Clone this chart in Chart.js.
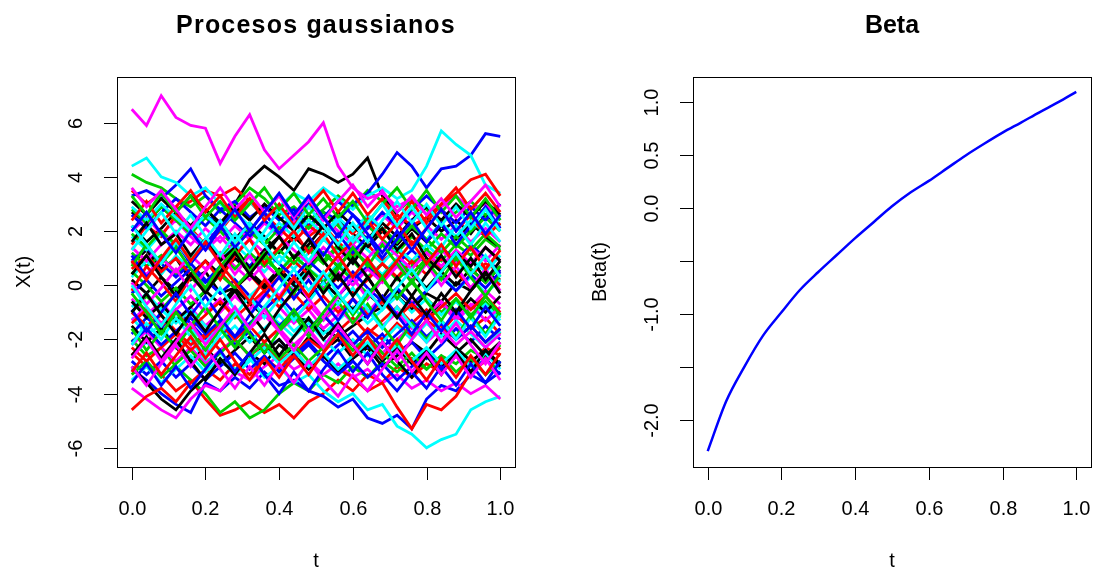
<!DOCTYPE html>
<html>
<head>
<meta charset="utf-8">
<script src="https://cdn.jsdelivr.net/npm/chart.js"></script>
<style>
  html, body { margin: 0; padding: 0; background: #fff; }
  #wrap { position: relative; width: 1093px; height: 570px; }
  #left { position: absolute; left: 0; top: 0; }
  #right { position: absolute; left: 546px; top: 0; }
</style>
</head>
<body>
<div id="wrap">
  <canvas id="left" width="546" height="570"></canvas>
  <canvas id="right" width="547" height="570"></canvas>
</div>
<script>
// time grid of the simulated paths
var tValues = [0, 0.04, 0.08, 0.12, 0.16, 0.2, 0.24, 0.28, 0.32, 0.36, 0.4, 0.44, 0.48,
               0.52, 0.56, 0.6, 0.64, 0.68, 0.72, 0.76, 0.8, 0.84, 0.88, 0.92, 0.96, 1];

// sample paths (matplot order: colour cycles black, red, green, blue, cyan, magenta)
var paths = [
  [2.7,2.3,2.9,2.4,2.0,2.6,2.2,3.0,3.9,4.4,4.0,3.5,4.3,4.1,3.8,4.1,4.7,3.3,2.6,2.1,2.5,2.0,2.4,1.9,2.6,2.2],
  [3.5,3.0,3.4,2.8,3.1,3.5,3.3,3.6,3.1,2.5,2.9,2.3,1.8,2.2,1.6,1.1,1.5,0.9,1.3,0.8,1.2,0.6,1.0,0.4,0.8,0.5],
  [4.1,3.8,3.6,3.2,2.9,3.3,2.7,3.0,3.6,3.2,2.6,2.9,2.4,2.8,3.3,2.9,3.5,3.1,2.7,3.2,2.8,2.3,2.7,3.1,2.6,3.0],
  [3.3,3.5,3.2,3.7,4.3,3.3,2.8,3.1,2.5,2.9,2.4,2.8,2.2,2.7,2.4,3.0,3.4,4.1,4.9,4.4,3.6,4.3,4.4,4.8,5.6,5.5],
  [4.4,4.7,4.0,3.8,3.3,3.6,3.0,2.6,3.1,2.5,2.9,3.4,3.1,3.6,3.2,2.8,3.3,3.6,3.2,3.5,4.4,5.7,5.2,4.8,3.7,3.4],
  [6.5,5.9,7.0,6.2,5.9,5.8,4.5,5.5,6.3,5.0,4.3,4.8,5.3,6.0,4.4,3.6,3.2,3.4,2.9,3.2,2.6,2.9,3.3,2.8,3.0,2.4],

  [0.8,1.3,0.6,1.0,0.2,0.5,-0.3,-0.1,-0.7,-1.1,-1.5,-1.2,-1.3,-1.7,-1.9,-1.5,-1.1,-0.8,-0.4,-0.9,-0.3,-0.6,0.1,-0.2,0.4,0.2],
  [-2.5,-3.0,-3.3,-3.9,-3.5,-4.2,-4.8,-4.6,-4.3,-4.7,-4.4,-4.9,-4.3,-4.0,-3.5,-3.9,-3.3,-3.6,-3.0,-3.4,-2.9,-3.2,-2.6,-2.9,-2.3,-2.6],
  [-2.0,-2.6,-2.3,-3.0,-3.5,-4.0,-4.7,-4.3,-4.9,-4.6,-4.0,-3.6,-3.9,-3.3,-3.6,-3.0,-3.4,-2.8,-3.2,-2.7,-3.1,-2.6,-2.9,-2.4,-2.7,-2.2],
  [-3.1,-3.5,-4.0,-4.4,-4.7,-3.6,-3.9,-3.4,-3.8,-3.2,-3.7,-3.5,-3.9,-4.1,-4.5,-4.2,-4.9,-5.1,-4.8,-5.3,-4.2,-3.7,-3.9,-3.3,-3.6,-3.2],
  [-1.2,-1.8,-1.5,-2.3,-2.0,-2.8,-2.5,-3.1,-2.7,-3.4,-3.0,-3.6,-3.3,-3.9,-4.3,-4.0,-4.6,-4.4,-5.2,-5.5,-6.0,-5.7,-5.5,-4.6,-4.3,-4.1],
  [-3.8,-4.2,-4.6,-4.9,-4.2,-3.7,-3.9,-3.2,-3.5,-3.0,-2.6,-3.1,-2.8,-3.3,-2.9,-3.4,-3.1,-3.6,-3.3,-3.8,-3.5,-3.9,-3.6,-4.0,-3.7,-4.2],

  [-3.0,-3.6,-4.2,-4.6,-3.9,-3.4,-2.8,-3.2,-2.5,-2.9,-2.2,-2.6,-1.9,-2.4,-2.0,-2.7,-2.3,-3.0,-2.6,-2.1,-2.5,-1.8,-2.3,-2.8,-2.4,-2.9],
  [-4.6,-4.1,-3.8,-4.3,-3.6,-3.1,-3.5,-2.9,-3.3,-2.7,-3.1,-2.5,-2.0,-2.4,-1.8,-2.2,-1.6,-2.0,-1.4,-1.9,-1.3,-1.7,-1.1,-1.6,-1.2,-1.8],
  [1.2,0.7,1.1,0.4,0.9,1.5,1.0,1.6,2.1,1.7,1.2,1.8,1.3,0.8,1.4,0.9,0.3,0.8,0.2,0.7,1.3,0.9,1.5,1.1,1.7,1.3],
  [-1.8,-1.2,-1.6,-0.9,-1.4,-2.0,-1.5,-2.2,-1.7,-2.4,-2.0,-2.6,-2.1,-2.7,-2.2,-1.7,-2.3,-1.8,-2.5,-2.1,-2.7,-2.2,-1.6,-2.1,-1.5,-2.0],
  [0.3,0.9,0.4,1.1,0.6,0.1,0.7,0.2,-0.4,0.1,-0.5,0.0,0.6,0.2,0.8,0.3,0.9,0.4,1.0,0.5,-0.1,0.4,-0.2,0.3,-0.3,0.2],
  [-0.5,-1.1,-0.6,-1.3,-0.8,-1.5,-1.0,-0.4,-0.9,-0.3,-0.8,-1.4,-0.9,-1.6,-1.1,-0.5,-1.0,-0.4,-1.1,-0.6,-1.2,-0.7,-1.3,-0.8,-0.2,-0.7],

  [2.2,1.6,2.1,2.7,2.2,2.8,2.3,1.7,2.3,1.8,1.2,1.8,1.3,1.9,2.4,1.9,1.4,2.0,1.5,2.1,1.6,2.2,1.7,2.3,1.8,1.4],
  [-1.0,-1.5,-1.1,-1.7,-2.2,-1.8,-2.4,-2.0,-2.6,-2.2,-2.8,-2.4,-3.0,-2.6,-3.1,-3.4,-3.9,-3.6,-4.5,-5.3,-4.4,-4.6,-4.1,-3.2,-2.8,-2.3],
  [-1.0,-0.4,-0.9,-0.3,0.3,-0.2,0.4,-0.1,0.5,1.0,0.5,1.1,0.6,0.1,0.7,0.2,-0.3,0.2,-0.4,0.1,-0.5,-1.0,-0.5,-1.1,-0.6,-1.2],
  [0.9,1.4,0.8,0.3,0.8,0.2,-0.3,0.2,-0.4,-0.9,-0.4,-1.0,-0.5,0.1,-0.4,0.2,0.7,0.2,0.8,1.3,0.8,1.4,0.9,1.5,1.0,0.5],
  [-2.6,-2.1,-2.7,-2.2,-1.6,-2.1,-1.5,-1.0,-1.5,-0.9,-1.4,-1.9,-1.4,-2.0,-2.5,-2.0,-2.6,-2.1,-1.5,-2.0,-1.4,-1.9,-1.3,-1.8,-2.3,-1.7],
  [2.0,2.5,1.9,2.4,1.8,1.3,1.8,1.2,1.7,2.3,1.8,2.4,1.9,2.5,2.0,1.5,2.1,2.6,2.1,2.7,2.2,1.7,2.2,1.6,2.1,1.6],

  [-1.5,-2.1,-1.6,-2.3,-2.8,-2.3,-2.9,-2.4,-1.9,-2.5,-2.0,-2.6,-3.1,-2.6,-3.2,-2.7,-2.2,-2.8,-2.3,-2.9,-2.4,-3.0,-2.5,-2.0,-2.6,-2.1],
  [1.5,2.2,1.8,2.6,2.1,1.5,2.0,2.7,3.2,2.6,2.1,1.6,2.2,1.8,2.3,1.9,2.5,2.0,2.6,2.2,2.5,3.0,3.4,3.9,4.1,3.3],
  [2.8,2.3,2.9,2.4,1.9,2.5,2.0,1.4,2.0,1.5,2.1,2.6,2.1,2.7,2.2,1.6,2.2,1.7,1.2,1.8,1.3,1.9,1.4,2.0,2.5,2.0],
  [-2.8,-3.3,-2.8,-3.4,-2.9,-3.5,-3.0,-2.5,-3.1,-2.6,-3.2,-2.7,-2.2,-2.8,-3.3,-2.8,-3.4,-2.9,-3.5,-3.0,-2.5,-3.1,-2.6,-3.2,-2.7,-3.3],
  [1.8,1.3,1.9,1.4,2.0,1.5,0.9,1.5,1.0,0.5,1.1,0.6,1.2,1.7,1.2,1.8,1.3,0.8,1.4,0.9,1.5,1.0,0.4,1.0,0.5,1.1],
  [-2.2,-1.7,-2.3,-2.8,-2.3,-2.9,-2.4,-2.0,-2.6,-2.1,-1.6,-2.2,-1.7,-2.3,-1.8,-2.4,-1.9,-2.5,-2.0,-1.5,-2.1,-1.6,-2.2,-1.7,-2.3,-1.8],

  [0.2,-0.3,0.3,-0.2,0.4,0.9,0.4,1.0,0.5,0.0,0.6,0.1,0.7,1.2,0.7,1.3,0.8,0.3,0.9,0.4,-0.1,0.5,0.0,0.6,0.1,0.7],
  [0.6,1.1,0.5,1.0,0.4,-0.1,0.5,-0.1,0.4,-0.2,0.3,0.9,0.4,-0.2,0.3,-0.3,0.2,0.8,0.3,0.9,0.4,1.0,0.5,-0.1,0.5,0.0],
  [-3.3,-2.8,-3.4,-2.9,-2.4,-3.0,-2.5,-2.0,-2.6,-2.1,-2.7,-2.2,-2.8,-2.3,-1.8,-2.4,-1.9,-2.5,-3.0,-2.5,-3.1,-2.6,-3.2,-2.7,-3.3,-2.8],
  [2.6,2.1,2.7,3.2,2.7,2.2,2.8,2.3,1.8,2.4,1.9,2.5,3.0,2.5,3.1,2.6,2.1,2.7,2.2,2.8,3.3,2.8,2.3,2.9,2.4,3.0],
  [-0.8,-0.3,-0.9,-1.4,-0.9,-1.5,-2.0,-1.5,-2.1,-1.6,-1.1,-1.7,-1.2,-1.8,-1.3,-0.8,-1.4,-0.9,-0.4,-1.0,-0.5,-1.1,-0.6,-1.2,-0.7,-1.3],
  [0.9,0.4,1.0,0.5,1.1,0.6,1.2,0.7,0.2,0.8,0.3,-0.2,0.4,-0.1,0.5,0.0,0.6,0.1,0.7,0.2,0.8,1.3,0.8,1.4,0.9,1.5],

  [-0.6,-1.2,-0.7,-1.3,-0.8,-0.2,-0.7,-0.1,0.4,-0.1,0.5,0.0,-0.5,0.1,-0.4,-0.9,-0.3,-0.8,-0.2,-0.7,-1.2,-0.6,-1.1,-0.5,-1.0,-0.4],
  [-2.3,-2.8,-2.3,-1.8,-2.4,-1.9,-1.4,-2.0,-1.5,-2.1,-1.6,-1.0,-1.6,-1.1,-1.7,-1.2,-1.8,-1.3,-0.8,-1.4,-0.9,-1.5,-2.0,-1.5,-2.1,-1.6],
  [0.5,0.0,-0.6,-0.1,-0.7,-0.2,0.4,-0.1,0.5,1.0,0.5,1.1,0.6,1.2,0.7,1.3,0.8,0.3,0.9,0.4,1.0,0.5,1.1,0.6,0.1,0.7],
  [-0.3,0.2,-0.4,0.1,0.6,0.1,0.7,1.2,0.7,1.3,0.8,0.3,0.9,0.4,-0.1,0.5,-0.1,-0.6,-0.1,-0.7,-0.2,0.3,-0.2,0.4,-0.1,0.5],
  [2.9,2.4,3.0,2.5,2.0,2.6,2.1,2.7,2.2,1.7,2.3,1.8,2.4,1.9,2.5,2.0,2.6,2.1,1.6,2.2,1.7,2.3,1.8,2.4,1.9,2.5],
  [-1.3,-0.8,-1.4,-0.9,-0.4,-1.0,-0.5,-1.1,-1.6,-1.1,-1.7,-1.2,-0.7,-1.3,-0.8,-1.4,-0.9,-1.5,-1.0,-1.6,-1.1,-0.6,-1.2,-0.7,-1.3,-0.8],

  [3.1,2.6,3.2,2.7,3.3,2.8,2.3,2.9,2.4,3.0,2.5,2.0,2.6,2.1,2.7,2.2,1.7,2.3,1.8,2.4,2.9,2.4,3.0,2.5,3.1,2.6],
  [-1.4,-0.9,-1.5,-1.0,-1.6,-1.1,-0.6,-1.2,-0.7,-0.2,-0.8,-0.3,-0.9,-0.4,-1.0,-0.5,-1.1,-0.6,-1.2,-0.7,-1.3,-0.8,-0.3,-0.9,-0.4,-1.0],
  [1.9,1.4,2.0,1.5,1.0,1.6,1.1,0.6,1.2,0.7,1.3,0.8,1.4,0.9,1.5,1.0,1.6,2.1,1.6,2.2,1.7,1.2,1.8,1.3,1.9,1.4],
  [-2.1,-1.6,-2.2,-1.7,-1.2,-1.8,-1.3,-1.9,-1.4,-0.9,-1.5,-1.0,-1.6,-1.1,-1.7,-2.2,-1.7,-2.3,-1.8,-1.3,-1.9,-1.4,-2.0,-1.5,-2.1,-1.6],
  [-3.5,-3.0,-3.6,-3.1,-2.6,-3.2,-2.7,-3.3,-2.8,-2.3,-2.9,-2.4,-3.0,-2.5,-3.1,-2.6,-2.1,-2.7,-2.2,-2.8,-2.3,-2.9,-2.4,-3.0,-2.5,-3.1],
  [1.4,0.9,1.5,2.0,1.5,2.1,1.6,2.2,1.7,1.2,1.8,1.3,0.8,1.4,0.9,1.5,1.0,1.6,1.1,0.6,1.2,0.7,1.3,0.8,1.4,0.9],

  [1.6,2.3,1.5,1.9,1.1,1.7,0.9,1.4,0.6,1.3,1.8,1.0,1.5,2.2,1.4,0.8,1.6,2.1,1.3,1.9,1.0,0.5,1.2,0.7,1.4,0.9],
  [-0.2,0.7,0.1,-0.6,0.3,0.9,0.2,1.1,1.7,0.8,1.4,2.0,1.2,1.9,1.1,1.6,2.4,1.7,2.3,1.5,2.1,2.8,2.0,2.6,1.8,2.3],
  [-1.6,-2.4,-1.7,-2.3,-1.5,-0.8,-1.6,-1.0,-1.8,-2.5,-1.7,-1.1,-1.9,-1.2,-0.6,-1.4,-0.7,-1.5,-2.2,-1.4,-2.0,-1.3,-1.9,-1.1,-1.8,-1.0],
  [1.1,0.3,0.9,1.6,0.8,1.5,2.2,1.4,2.0,2.7,1.9,2.6,1.8,1.1,1.9,1.2,1.8,1.0,1.7,2.4,1.6,2.3,1.5,2.2,2.9,2.1],
  [-2.2,-1.4,-2.0,-1.2,-1.9,-2.6,-1.8,-1.1,-0.4,-1.2,-0.5,-1.3,-0.6,0.1,-0.7,-0.1,-0.9,-1.6,-0.8,-1.5,-2.1,-1.3,-2.0,-1.2,-1.9,-1.1],
  [0.1,-0.7,-0.1,0.6,-0.2,0.5,1.2,0.4,1.1,0.3,-0.4,0.3,-0.5,-1.2,-0.4,0.3,-0.5,0.2,0.9,0.1,0.8,0.0,0.7,-0.1,0.6,-0.2],

  [-2.6,-1.9,-2.7,-2.0,-2.8,-3.5,-2.7,-3.3,-2.5,-1.8,-2.6,-1.9,-1.2,-2.0,-1.4,-2.2,-2.9,-2.1,-2.8,-3.4,-2.6,-3.3,-2.5,-3.2,-2.4,-3.0],
  [2.4,3.1,2.3,2.9,3.5,2.7,3.3,2.5,3.2,2.4,3.0,2.2,2.9,3.5,2.7,3.4,2.6,3.2,2.4,3.1,2.3,3.0,3.6,2.8,3.4,2.7],
  [0.7,1.5,0.8,1.4,0.6,-0.1,0.7,1.3,0.5,1.2,0.4,-0.3,0.5,-0.2,0.6,1.4,0.7,1.5,0.8,0.1,0.9,0.2,1.0,0.3,-0.4,0.4],
  [-3.6,-2.9,-3.7,-3.0,-3.8,-3.1,-2.4,-3.2,-2.5,-3.3,-4.0,-3.2,-3.9,-3.1,-2.4,-3.2,-2.5,-3.3,-3.9,-3.2,-3.8,-3.0,-3.7,-2.9,-3.6,-2.8],
  [1.3,2.0,2.7,1.9,2.6,1.8,1.1,1.9,1.2,2.0,2.8,2.1,2.9,2.2,1.5,2.3,1.6,2.4,3.1,2.3,3.0,2.2,2.9,2.1,2.8,2.0],
  [-3.0,-3.7,-2.9,-2.2,-3.0,-2.3,-3.1,-3.8,-3.0,-3.7,-2.9,-3.6,-2.8,-3.5,-4.1,-3.3,-3.9,-3.1,-2.4,-3.2,-2.5,-3.3,-2.6,-3.4,-2.7,-3.5],

  [0.4,1.1,0.3,-0.4,0.4,-0.3,0.5,1.2,0.4,1.1,1.8,1.0,1.7,0.9,0.2,1.0,0.3,-0.5,0.3,-0.4,0.4,1.1,0.3,1.0,0.2,0.9],
  [-3.2,-2.5,-3.3,-2.6,-1.9,-2.7,-2.0,-2.8,-3.5,-2.7,-3.4,-2.6,-3.3,-2.5,-1.8,-2.6,-1.9,-2.7,-2.0,-2.8,-3.5,-2.7,-3.4,-2.6,-3.3,-2.5],
  [3.3,2.6,3.4,2.7,3.3,2.5,3.1,2.4,3.0,3.6,2.8,3.4,2.6,3.2,2.5,3.1,2.3,3.0,3.6,2.8,3.5,2.7,3.3,2.5,3.2,2.4],
  [-0.9,-1.7,-1.0,-0.3,-1.1,-0.4,-1.2,-1.9,-1.1,-0.4,0.3,-0.5,0.2,-0.6,-1.3,-0.5,-1.2,-0.4,-1.1,-1.8,-1.0,-1.7,-0.9,-1.6,-0.8,-1.5],
  [2.2,1.5,0.8,1.6,0.9,1.7,2.4,1.6,2.3,1.5,0.8,1.6,0.9,1.7,2.4,1.6,2.3,3.0,2.2,2.9,2.1,1.4,2.2,1.5,2.3,1.6],
  [3.6,2.9,3.5,2.8,2.1,2.9,3.6,2.8,3.4,2.7,3.3,2.5,3.2,2.4,3.1,3.7,2.9,3.5,2.7,3.3,2.6,3.2,2.5,3.1,3.7,2.9],

  [-1.0,-0.3,-1.1,-1.8,-1.0,-1.7,-0.9,-0.2,-1.0,-1.7,-0.9,-0.2,0.5,-0.3,0.4,-0.4,0.3,-0.5,-1.2,-0.4,-1.1,-0.3,-1.0,-0.2,0.5,-0.3],
  [0.9,0.2,1.0,1.7,0.9,1.6,0.8,0.1,-0.6,0.2,-0.5,0.3,-0.4,0.4,1.1,0.3,1.0,0.2,0.9,1.6,0.8,1.5,0.7,1.4,0.6,1.3],
  [-0.3,-1.0,-1.8,-1.0,-1.7,-2.4,-1.6,-2.3,-1.5,-0.8,-1.6,-0.9,-1.7,-1.0,-0.3,-1.1,-0.4,0.3,-0.5,0.2,-0.6,-1.3,-0.5,-1.2,-0.4,-1.1],
  [2.0,2.7,1.9,1.2,2.0,1.3,2.1,2.8,2.0,2.7,3.4,2.6,3.3,2.5,1.8,2.6,1.9,1.2,2.0,1.3,2.1,2.8,2.0,2.7,1.9,2.6],
  [0.0,-0.8,-1.5,-0.7,0.0,-0.8,-0.1,-0.9,-1.6,-0.8,-0.1,0.6,-0.2,0.5,-0.3,-1.0,-0.2,-0.9,-0.1,0.6,-0.2,0.5,1.2,0.4,1.1,0.3],
  [-2.7,-2.0,-2.8,-2.1,-1.4,-2.2,-1.5,-0.8,-1.6,-0.9,-1.7,-2.4,-1.6,-2.3,-1.5,-2.2,-2.9,-2.1,-2.8,-2.0,-1.3,-2.1,-1.4,-2.2,-2.9,-2.1]
];

// beta curve
var betaT = [0, 0.05, 0.1, 0.15, 0.2, 0.25, 0.3, 0.35, 0.4, 0.45, 0.5,
             0.55, 0.6, 0.65, 0.7, 0.75, 0.8, 0.85, 0.9, 0.95, 1];
var betaValues = [-2.29, -1.82, -1.49, -1.20, -0.98, -0.77, -0.60, -0.44, -0.28, -0.13, 0.02,
                  0.15, 0.26, 0.38, 0.50, 0.61, 0.715, 0.81, 0.907, 1.00, 1.10];

// axis ticks
var xTicks = [0, 0.2, 0.4, 0.6, 0.8, 1];
var xTickLabels = ['0.0', '0.2', '0.4', '0.6', '0.8', '1.0'];
var leftYTicks = [-6, -4, -2, 0, 2, 4, 6];
var leftYTickLabels = ['-6', '-4', '-2', '0', '2', '4', '6'];
var rightYTicks = [-2, -1.5, -1, -0.5, 0, 0.5, 1];
var rightYTickLabels = ['-2.0', '', '-1.0', '', '0.0', '0.5', '1.0'];

var palette = ['#000000', '#FF0000', '#00CD00', '#0000FF', '#00FFFF', '#FF00FF'];
var FONT = '"Liberation Sans", Arial, sans-serif';

// R-style box, ticks, rotated y labels and titles
var rAxes = {
  id: 'rAxes',
  afterDraw: function (chart, args, o) {
    var ctx = chart.ctx, a = chart.chartArea;
    var xs = chart.scales.x, ys = chart.scales.y;
    ctx.save();
    ctx.strokeStyle = '#000';
    ctx.fillStyle = '#000';
    ctx.lineWidth = 1;
    ctx.strokeRect(Math.round(a.left) + 0.5, Math.round(a.top) + 0.5,
                   Math.round(a.right - a.left), Math.round(a.bottom - a.top));

    ctx.font = '20px ' + FONT;
    ctx.textAlign = 'center';
    ctx.textBaseline = 'middle';
    o.xTicks.forEach(function (v, i) {
      var px = Math.round(xs.getPixelForValue(v)) + 0.5;
      ctx.beginPath();
      ctx.moveTo(px, a.bottom);
      ctx.lineTo(px, a.bottom + 13);
      ctx.stroke();
      ctx.fillText(o.xLabels[i], px, a.bottom + 42);
    });
    o.yTicks.forEach(function (v, i) {
      var py = Math.round(ys.getPixelForValue(v)) + 0.5;
      ctx.beginPath();
      ctx.moveTo(a.left - 13, py);
      ctx.lineTo(a.left, py);
      ctx.stroke();
      if (o.yLabels[i]) {
        ctx.save();
        ctx.translate(a.left - 41, py);
        ctx.rotate(-Math.PI / 2);
        ctx.fillText(o.yLabels[i], 0, 0);
        ctx.restore();
      }
    });

    // axis titles
    var cx = (a.left + a.right) / 2, cy = (a.top + a.bottom) / 2;
    ctx.fillText(o.xTitle, cx, a.bottom + 94);
    ctx.save();
    ctx.translate(a.left - 93, cy);
    ctx.rotate(-Math.PI / 2);
    ctx.fillText(o.yTitle, 0, 0);
    ctx.restore();

    // main title
    ctx.font = 'bold 25px ' + FONT;
    ctx.textBaseline = 'alphabetic';
    if (o.spacing) ctx.letterSpacing = o.spacing;
    ctx.fillText(o.title, cx, 33);
    ctx.restore();
  }
};

document.addEventListener('DOMContentLoaded', function () {
  var leftDatasets = paths.map(function (p, i) {
    return {
      data: tValues.map(function (t, j) { return { x: t, y: p[j] }; }),
      borderColor: palette[i % 6],
      borderWidth: 2.8,
      pointRadius: 0,
      fill: false
    };
  }).reverse();

  new Chart(document.getElementById('left').getContext('2d'), {
    type: 'line',
    data: { datasets: leftDatasets },
    options: {
      responsive: false,
      devicePixelRatio: 1,
      animation: false,
      layout: { padding: { left: 117, top: 77, right: 31, bottom: 103 } },
      plugins: {
        legend: { display: false },
        tooltip: { enabled: false },
        rAxes: {
          xTicks: xTicks, xLabels: xTickLabels,
          yTicks: leftYTicks, yLabels: leftYTickLabels,
          xTitle: 't', yTitle: 'X(t)',
          title: 'Procesos gaussianos', spacing: '1.2px'
        }
      },
      scales: {
        x: { type: 'linear', min: -0.04, max: 1.04, display: false },
        y: { type: 'linear', min: -6.71, max: 7.69, display: false }
      }
    },
    plugins: [rAxes]
  });

  new Chart(document.getElementById('right').getContext('2d'), {
    type: 'line',
    data: {
      datasets: [{
        data: betaT.map(function (t, j) { return { x: t, y: betaValues[j] }; }),
        borderColor: '#0000FF',
        borderWidth: 2.5,
        pointRadius: 0,
        cubicInterpolationMode: 'monotone',
        fill: false
      }]
    },
    options: {
      responsive: false,
      devicePixelRatio: 1,
      animation: false,
      layout: { padding: { left: 147, top: 77, right: 2, bottom: 103 } },
      plugins: {
        legend: { display: false },
        tooltip: { enabled: false },
        rAxes: {
          xTicks: xTicks, xLabels: xTickLabels,
          yTicks: rightYTicks, yLabels: rightYTickLabels,
          xTitle: 't', yTitle: 'Beta(t)',
          title: 'Beta'
        }
      },
      scales: {
        x: { type: 'linear', min: -0.04, max: 1.04, display: false },
        y: { type: 'linear', min: -2.44, max: 1.24, display: false }
      }
    },
    plugins: [rAxes]
  });
});
</script>
</body>
</html>
